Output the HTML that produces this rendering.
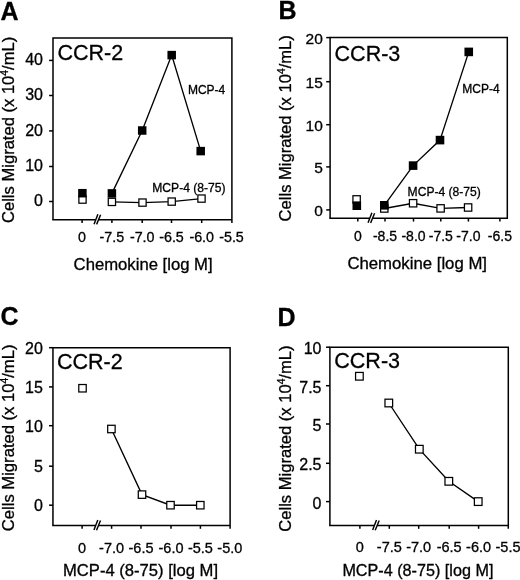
<!DOCTYPE html>
<html><head><meta charset="utf-8"><style>
html,body{margin:0;padding:0;background:#fff;width:520px;height:580px;overflow:hidden}
svg{display:block;will-change:transform}
text{font-family:"Liberation Sans", sans-serif;fill:#000;stroke:#000;stroke-width:0.3px}
</style></head><body>
<svg width="520" height="580" viewBox="0 0 520 580">
<rect width="520" height="580" fill="#fff"/>
<path d="M53.00,219.70 V37.90 H231.90 V223.00" fill="none" stroke="#000" stroke-width="1.5" stroke-linejoin="miter" stroke-linecap="butt"/>
<path d="M52.25,219.70 H95.80 M98.55,219.70 H231.90" fill="none" stroke="#000" stroke-width="1.5"/>
<line x1="94.05" y1="224.20" x2="97.90" y2="214.20" stroke="#000" stroke-width="1.45"/>
<line x1="96.60" y1="224.40" x2="100.60" y2="214.70" stroke="#000" stroke-width="1.45"/>
<line x1="49.10" y1="201.50" x2="53.00" y2="201.50" stroke="#000" stroke-width="1.5"/>
<text x="43.00" y="206.10" font-size="16" text-anchor="end">0</text>
<line x1="49.10" y1="166.50" x2="53.00" y2="166.50" stroke="#000" stroke-width="1.5"/>
<text x="43.00" y="171.10" font-size="16" text-anchor="end">10</text>
<line x1="49.10" y1="130.90" x2="53.00" y2="130.90" stroke="#000" stroke-width="1.5"/>
<text x="43.00" y="135.50" font-size="16" text-anchor="end">20</text>
<line x1="49.10" y1="95.50" x2="53.00" y2="95.50" stroke="#000" stroke-width="1.5"/>
<text x="43.00" y="100.10" font-size="16" text-anchor="end">30</text>
<line x1="49.10" y1="60.40" x2="53.00" y2="60.40" stroke="#000" stroke-width="1.5"/>
<text x="43.00" y="65.00" font-size="16" text-anchor="end">40</text>
<line x1="82.10" y1="219.70" x2="82.10" y2="223.00" stroke="#000" stroke-width="1.5"/>
<text x="82.10" y="242.30" font-size="14.3" text-anchor="middle">0</text>
<line x1="111.90" y1="219.70" x2="111.90" y2="223.00" stroke="#000" stroke-width="1.5"/>
<text x="111.90" y="242.30" font-size="14.3" text-anchor="middle">-7.5</text>
<line x1="142.20" y1="219.70" x2="142.20" y2="223.00" stroke="#000" stroke-width="1.5"/>
<text x="142.20" y="242.30" font-size="14.3" text-anchor="middle">-7.0</text>
<line x1="171.50" y1="219.70" x2="171.50" y2="223.00" stroke="#000" stroke-width="1.5"/>
<text x="171.50" y="242.30" font-size="14.3" text-anchor="middle">-6.5</text>
<line x1="201.70" y1="219.70" x2="201.70" y2="223.00" stroke="#000" stroke-width="1.5"/>
<text x="201.70" y="242.30" font-size="14.3" text-anchor="middle">-6.0</text>
<text x="231.50" y="242.30" font-size="14.3" text-anchor="middle">-5.5</text>
<text transform="translate(14.00,223.00) rotate(-90)" font-size="16.4" textLength="186.20" lengthAdjust="spacingAndGlyphs">Cells Migrated (x 10<tspan font-size="10.17" dy="-6">4</tspan><tspan dy="6">/mL)</tspan></text>
<text x="73.60" y="269.50" font-size="16" textLength="139.00" lengthAdjust="spacingAndGlyphs">Chemokine [log M]</text>
<text x="57.40" y="59.50" font-size="21.5">CCR-2</text>
<text x="187.90" y="93.50" font-size="12">MCP-4</text>
<text x="0.40" y="19.90" font-size="25" font-weight="bold">A</text>
<text x="152.30" y="191.60" font-size="12.1">MCP-4 (8-75)</text>
<polyline points="111.90,201.90 142.50,202.60 171.70,201.60 201.50,198.60" fill="none" stroke="#000" stroke-width="1.35" stroke-linejoin="miter"/>
<polyline points="111.90,193.40 142.20,130.50 171.70,55.10 200.70,151.10" fill="none" stroke="#000" stroke-width="1.35" stroke-linejoin="miter"/>
<rect x="78.88" y="195.97" width="7.25" height="7.25" fill="#fff" stroke="#000" stroke-width="1.25"/>
<rect x="108.28" y="198.28" width="7.25" height="7.25" fill="#fff" stroke="#000" stroke-width="1.25"/>
<rect x="138.88" y="198.97" width="7.25" height="7.25" fill="#fff" stroke="#000" stroke-width="1.25"/>
<rect x="168.07" y="197.97" width="7.25" height="7.25" fill="#fff" stroke="#000" stroke-width="1.25"/>
<rect x="197.88" y="194.97" width="7.25" height="7.25" fill="#fff" stroke="#000" stroke-width="1.25"/>
<rect x="78.15" y="188.95" width="8.5" height="8.5" fill="#000"/>
<rect x="107.65" y="189.15" width="8.5" height="8.5" fill="#000"/>
<rect x="137.95" y="126.25" width="8.5" height="8.5" fill="#000"/>
<rect x="167.45" y="50.85" width="8.5" height="8.5" fill="#000"/>
<rect x="196.45" y="146.85" width="8.5" height="8.5" fill="#000"/>
<path d="M330.10,218.25 V37.60 H507.30 V219.00" fill="none" stroke="#000" stroke-width="1.5" stroke-linejoin="miter" stroke-linecap="butt"/>
<path d="M329.35,218.25 H369.80 M372.55,218.25 H507.30" fill="none" stroke="#000" stroke-width="1.5"/>
<line x1="368.05" y1="222.75" x2="371.90" y2="212.75" stroke="#000" stroke-width="1.45"/>
<line x1="370.60" y1="222.95" x2="374.60" y2="213.25" stroke="#000" stroke-width="1.45"/>
<line x1="326.20" y1="209.90" x2="330.10" y2="209.90" stroke="#000" stroke-width="1.5"/>
<text x="322.80" y="216.00" font-size="15.5" text-anchor="end">0</text>
<line x1="326.20" y1="166.90" x2="330.10" y2="166.90" stroke="#000" stroke-width="1.5"/>
<text x="322.80" y="173.00" font-size="15.5" text-anchor="end">5</text>
<line x1="326.20" y1="124.70" x2="330.10" y2="124.70" stroke="#000" stroke-width="1.5"/>
<text x="322.80" y="130.80" font-size="15.5" text-anchor="end">10</text>
<line x1="326.20" y1="81.70" x2="330.10" y2="81.70" stroke="#000" stroke-width="1.5"/>
<text x="322.80" y="87.80" font-size="15.5" text-anchor="end">15</text>
<line x1="326.20" y1="37.60" x2="330.10" y2="37.60" stroke="#000" stroke-width="1.5"/>
<text x="322.80" y="43.70" font-size="15.5" text-anchor="end">20</text>
<line x1="357.80" y1="218.25" x2="357.80" y2="221.55" stroke="#000" stroke-width="1.5"/>
<text x="357.80" y="241.00" font-size="14.0" text-anchor="middle">0</text>
<line x1="385.00" y1="218.25" x2="385.00" y2="221.55" stroke="#000" stroke-width="1.5"/>
<text x="385.00" y="241.00" font-size="14.0" text-anchor="middle">-8.5</text>
<line x1="413.50" y1="218.25" x2="413.50" y2="221.55" stroke="#000" stroke-width="1.5"/>
<text x="413.50" y="241.00" font-size="14.0" text-anchor="middle">-8.0</text>
<line x1="440.80" y1="218.25" x2="440.80" y2="221.55" stroke="#000" stroke-width="1.5"/>
<text x="440.80" y="241.00" font-size="14.0" text-anchor="middle">-7.5</text>
<line x1="468.40" y1="218.25" x2="468.40" y2="221.55" stroke="#000" stroke-width="1.5"/>
<text x="468.40" y="241.00" font-size="14.0" text-anchor="middle">-7.0</text>
<line x1="499.90" y1="218.25" x2="499.90" y2="221.55" stroke="#000" stroke-width="1.5"/>
<text x="499.90" y="241.00" font-size="14.0" text-anchor="middle">-6.5</text>
<text transform="translate(291.20,221.40) rotate(-90)" font-size="16.4" textLength="186.20" lengthAdjust="spacingAndGlyphs">Cells Migrated (x 10<tspan font-size="10.17" dy="-6">4</tspan><tspan dy="6">/mL)</tspan></text>
<text x="347.40" y="269.00" font-size="16" textLength="139.60" lengthAdjust="spacingAndGlyphs">Chemokine [log M]</text>
<text x="334.60" y="60.80" font-size="21.5">CCR-3</text>
<text x="462.30" y="92.90" font-size="12">MCP-4</text>
<text x="278.40" y="18.60" font-size="25" font-weight="bold">B</text>
<text x="407.60" y="195.60" font-size="12.1">MCP-4 (8-75)</text>
<polyline points="384.30,208.50 413.10,203.25 440.60,208.40 468.10,207.50" fill="none" stroke="#000" stroke-width="1.35" stroke-linejoin="miter"/>
<polyline points="384.30,205.30 413.10,165.60 440.00,140.10 468.75,51.90" fill="none" stroke="#000" stroke-width="1.35" stroke-linejoin="miter"/>
<rect x="352.93" y="195.72" width="7.35" height="7.35" fill="#fff" stroke="#000" stroke-width="1.25"/>
<rect x="380.62" y="204.82" width="7.35" height="7.35" fill="#fff" stroke="#000" stroke-width="1.25"/>
<rect x="409.43" y="199.57" width="7.35" height="7.35" fill="#fff" stroke="#000" stroke-width="1.25"/>
<rect x="436.93" y="204.72" width="7.35" height="7.35" fill="#fff" stroke="#000" stroke-width="1.25"/>
<rect x="464.43" y="203.82" width="7.35" height="7.35" fill="#fff" stroke="#000" stroke-width="1.25"/>
<rect x="352.50" y="201.40" width="8.6" height="8.6" fill="#000"/>
<rect x="380.00" y="201.00" width="8.6" height="8.6" fill="#000"/>
<rect x="408.80" y="161.30" width="8.6" height="8.6" fill="#000"/>
<rect x="435.70" y="135.80" width="8.6" height="8.6" fill="#000"/>
<rect x="464.45" y="47.60" width="8.6" height="8.6" fill="#000"/>
<path d="M52.95,525.50 V347.70 H230.10 V528.80" fill="none" stroke="#000" stroke-width="1.5" stroke-linejoin="miter" stroke-linecap="butt"/>
<path d="M52.20,525.50 H95.70 M98.45,525.50 H230.10" fill="none" stroke="#000" stroke-width="1.5"/>
<line x1="93.95" y1="530.00" x2="97.80" y2="520.00" stroke="#000" stroke-width="1.45"/>
<line x1="96.50" y1="530.20" x2="100.50" y2="520.50" stroke="#000" stroke-width="1.45"/>
<line x1="49.05" y1="505.20" x2="52.95" y2="505.20" stroke="#000" stroke-width="1.5"/>
<text x="42.80" y="511.30" font-size="16" text-anchor="end">0</text>
<line x1="49.05" y1="466.20" x2="52.95" y2="466.20" stroke="#000" stroke-width="1.5"/>
<text x="42.80" y="472.30" font-size="16" text-anchor="end">5</text>
<line x1="49.05" y1="425.70" x2="52.95" y2="425.70" stroke="#000" stroke-width="1.5"/>
<text x="42.80" y="431.80" font-size="16" text-anchor="end">10</text>
<line x1="49.05" y1="386.90" x2="52.95" y2="386.90" stroke="#000" stroke-width="1.5"/>
<text x="42.80" y="393.00" font-size="16" text-anchor="end">15</text>
<line x1="49.05" y1="347.70" x2="52.95" y2="347.70" stroke="#000" stroke-width="1.5"/>
<text x="42.80" y="353.80" font-size="16" text-anchor="end">20</text>
<line x1="82.10" y1="525.50" x2="82.10" y2="528.80" stroke="#000" stroke-width="1.5"/>
<text x="82.10" y="552.60" font-size="14.5" text-anchor="middle">0</text>
<line x1="111.60" y1="525.50" x2="111.60" y2="528.80" stroke="#000" stroke-width="1.5"/>
<text x="111.60" y="552.60" font-size="14.5" text-anchor="middle">-7.0</text>
<line x1="141.00" y1="525.50" x2="141.00" y2="528.80" stroke="#000" stroke-width="1.5"/>
<text x="141.00" y="552.60" font-size="14.5" text-anchor="middle">-6.5</text>
<line x1="171.00" y1="525.50" x2="171.00" y2="528.80" stroke="#000" stroke-width="1.5"/>
<text x="171.00" y="552.60" font-size="14.5" text-anchor="middle">-6.0</text>
<line x1="200.40" y1="525.50" x2="200.40" y2="528.80" stroke="#000" stroke-width="1.5"/>
<text x="200.40" y="552.60" font-size="14.5" text-anchor="middle">-5.5</text>
<text x="229.80" y="552.60" font-size="14.5" text-anchor="middle">-5.0</text>
<text transform="translate(13.90,531.20) rotate(-90)" font-size="16.4" textLength="186.70" lengthAdjust="spacingAndGlyphs">Cells Migrated (x 10<tspan font-size="10.17" dy="-6">4</tspan><tspan dy="6">/mL)</tspan></text>
<text x="63.00" y="576.10" font-size="16" textLength="155.00" lengthAdjust="spacingAndGlyphs">MCP-4 (8-75) [log M]</text>
<text x="57.00" y="369.20" font-size="21.5">CCR-2</text>
<text x="-100.00" y="-100.00" font-size="12"></text>
<text x="0.50" y="324.60" font-size="25" font-weight="bold">C</text>
<polyline points="111.40,429.00 142.00,494.60 170.50,505.20 200.30,505.20" fill="none" stroke="#000" stroke-width="1.35" stroke-linejoin="miter"/>
<rect x="78.78" y="384.52" width="7.45" height="7.45" fill="#fff" stroke="#000" stroke-width="1.25"/>
<rect x="107.68" y="425.27" width="7.45" height="7.45" fill="#fff" stroke="#000" stroke-width="1.25"/>
<rect x="138.28" y="490.88" width="7.45" height="7.45" fill="#fff" stroke="#000" stroke-width="1.25"/>
<rect x="166.78" y="501.47" width="7.45" height="7.45" fill="#fff" stroke="#000" stroke-width="1.25"/>
<rect x="196.58" y="501.47" width="7.45" height="7.45" fill="#fff" stroke="#000" stroke-width="1.25"/>
<path d="M329.90,525.50 V347.20 H508.30 V528.80" fill="none" stroke="#000" stroke-width="1.5" stroke-linejoin="miter" stroke-linecap="butt"/>
<path d="M329.15,525.50 H374.40 M377.15,525.50 H508.30" fill="none" stroke="#000" stroke-width="1.5"/>
<line x1="372.65" y1="530.00" x2="376.50" y2="520.00" stroke="#000" stroke-width="1.45"/>
<line x1="375.20" y1="530.20" x2="379.20" y2="520.50" stroke="#000" stroke-width="1.45"/>
<line x1="326.00" y1="501.60" x2="329.90" y2="501.60" stroke="#000" stroke-width="1.5"/>
<text x="321.50" y="508.70" font-size="16" text-anchor="end">0</text>
<line x1="326.00" y1="463.30" x2="329.90" y2="463.30" stroke="#000" stroke-width="1.5"/>
<text x="321.50" y="470.40" font-size="16" text-anchor="end">2.5</text>
<line x1="326.00" y1="424.00" x2="329.90" y2="424.00" stroke="#000" stroke-width="1.5"/>
<text x="321.50" y="431.10" font-size="16" text-anchor="end">5</text>
<line x1="326.00" y1="385.70" x2="329.90" y2="385.70" stroke="#000" stroke-width="1.5"/>
<text x="321.50" y="392.80" font-size="16" text-anchor="end">7.5</text>
<line x1="326.00" y1="347.20" x2="329.90" y2="347.20" stroke="#000" stroke-width="1.5"/>
<text x="321.50" y="354.30" font-size="16" text-anchor="end">10</text>
<line x1="359.90" y1="525.50" x2="359.90" y2="528.80" stroke="#000" stroke-width="1.5"/>
<text x="359.90" y="552.00" font-size="14.5" text-anchor="middle">0</text>
<line x1="389.30" y1="525.50" x2="389.30" y2="528.80" stroke="#000" stroke-width="1.5"/>
<text x="389.30" y="552.00" font-size="14.5" text-anchor="middle">-7.5</text>
<line x1="418.70" y1="525.50" x2="418.70" y2="528.80" stroke="#000" stroke-width="1.5"/>
<text x="418.70" y="552.00" font-size="14.5" text-anchor="middle">-7.0</text>
<line x1="449.20" y1="525.50" x2="449.20" y2="528.80" stroke="#000" stroke-width="1.5"/>
<text x="449.20" y="552.00" font-size="14.5" text-anchor="middle">-6.5</text>
<line x1="478.60" y1="525.50" x2="478.60" y2="528.80" stroke="#000" stroke-width="1.5"/>
<text x="478.60" y="552.00" font-size="14.5" text-anchor="middle">-6.0</text>
<text x="508.00" y="552.00" font-size="14.5" text-anchor="middle">-5.5</text>
<text transform="translate(290.60,531.70) rotate(-90)" font-size="16.4" textLength="186.20" lengthAdjust="spacingAndGlyphs">Cells Migrated (x 10<tspan font-size="10.17" dy="-6">4</tspan><tspan dy="6">/mL)</tspan></text>
<text x="342.40" y="576.00" font-size="16" textLength="151.00" lengthAdjust="spacingAndGlyphs">MCP-4 (8-75) [log M]</text>
<text x="334.30" y="368.10" font-size="21.5">CCR-3</text>
<text x="-100.00" y="-100.00" font-size="12"></text>
<text x="277.60" y="325.50" font-size="25" font-weight="bold">D</text>
<polyline points="388.80,403.00 419.30,449.20 448.80,481.30 478.20,501.60" fill="none" stroke="#000" stroke-width="1.35" stroke-linejoin="miter"/>
<rect x="355.57" y="372.43" width="7.65" height="7.65" fill="#fff" stroke="#000" stroke-width="1.25"/>
<rect x="384.98" y="399.18" width="7.65" height="7.65" fill="#fff" stroke="#000" stroke-width="1.25"/>
<rect x="415.48" y="445.38" width="7.65" height="7.65" fill="#fff" stroke="#000" stroke-width="1.25"/>
<rect x="444.98" y="477.48" width="7.65" height="7.65" fill="#fff" stroke="#000" stroke-width="1.25"/>
<rect x="474.38" y="497.78" width="7.65" height="7.65" fill="#fff" stroke="#000" stroke-width="1.25"/>
</svg>
</body></html>
